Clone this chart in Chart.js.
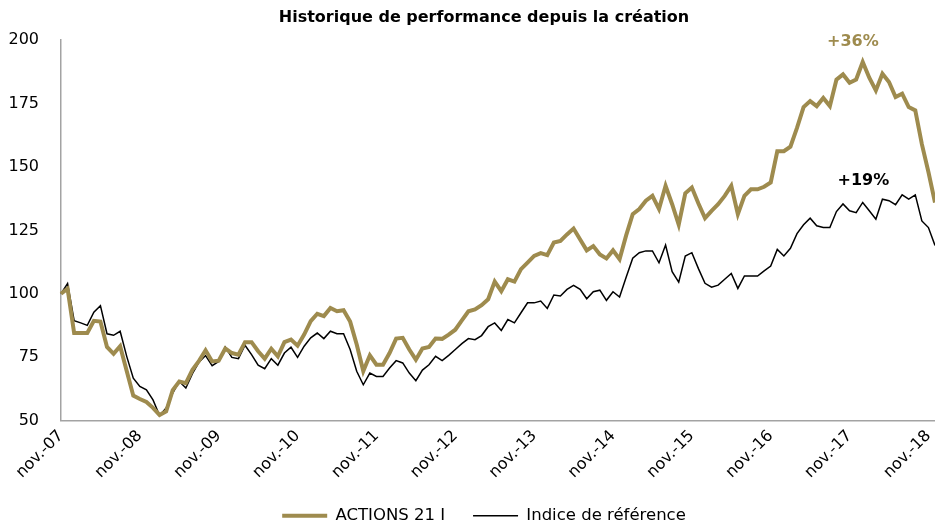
<!DOCTYPE html>
<html lang="fr">
<head>
<meta charset="utf-8">
<title>Historique de performance depuis la création</title>
<script src="https://cdn.jsdelivr.net/npm/chart.js@4/dist/chart.umd.min.js"></script>
<style>
  html, body { margin: 0; padding: 0; background: #fff; }
</style>
</head>
<body>
<canvas id="chartPerf" width="935" height="526"></canvas>
<script>
// ── Données ────────────────────────────────────────────────────────────────
const MOIS_FR   = ['janv.', 'févr.', 'mars', 'avr.', 'mai', 'juin', 'juil.', 'août', 'sept.', 'oct.', 'nov.', 'déc.'];
const NB_MOIS   = 134;   // nov.-07 → déc.-18, base 100
const TICK_STEP = 12;    // une étiquette par an (nov.)

const ACTIONS_21_I = [
  100, 102, 84.5, 84.5, 84.5, 89.3, 89, 79, 76.3, 79.3,
  69.5, 59.8, 58.5, 57.3, 55, 52.2, 53.6, 62, 65.4, 64.7,
  70, 73.5, 77.7, 73.3, 73.6, 78.4, 76.6, 76, 80.9, 80.9,
  77.3, 74.4, 78.3, 75.3, 80.9, 81.9, 79.5, 83.9, 89.2, 92.1,
  91.2, 94.4, 93.1, 93.5, 89, 80, 69.5, 75.7, 72, 72,
  76.6, 82.3, 82.6, 78, 74, 78.4, 79, 82.3, 82.2, 83.9,
  85.8, 89.5, 93.1, 93.8, 95.5, 97.8, 104.8, 101, 105.7, 104.8,
  109.7, 112.3, 114.9, 116, 115.2, 120.2, 120.8, 123.4, 125.7, 121.4,
  117.1, 118.8, 115.5, 113.9, 117.1, 113.6, 123, 131.4, 133.4, 136.7,
  138.6, 133.4, 142.6, 135.3, 127.2, 139.6, 141.9, 135.6, 129.8, 132.7,
  135.3, 138.6, 142.6, 131.4, 138.6, 141.2, 141.2, 142.2, 143.9, 156.2,
  156.2, 158, 165.4, 173.6, 176, 174, 177.2, 174, 184.4, 186.5,
  183.2, 184.5, 191.4, 185.2, 180.2, 186.8, 183.5, 177.6, 178.9, 173.6,
  172.3, 159, 148, 136,
];

const INDICE_REF = [
  100, 104, 89.4, 88.5, 87.5, 92.7, 95.3, 84.2, 83.6, 85.2,
  75.3, 66.7, 63.4, 62.1, 58.1, 52, 54.9, 60.8, 65.4, 62.8,
  68.5, 73, 75.6, 71.6, 73.3, 79, 74.9, 74.4, 79.7, 76,
  71.8, 70.4, 74.4, 71.8, 76.6, 78.9, 74.9, 79.3, 82.6, 84.5,
  82.3, 85.2, 84.2, 84.2, 78, 69.4, 64.1, 68.7, 67.4, 67.4,
  70.7, 73.6, 72.7, 68.7, 65.7, 69.9, 72, 75.3, 73.6, 75.7,
  78, 80.3, 82.3, 81.9, 83.5, 87, 88.5, 85.5, 89.8, 88.5,
  92.5, 96.4, 96.4, 97.1, 94.2, 99.5, 99.1, 101.7, 103.3, 101.7,
  98, 100.8, 101.4, 97.4, 100.8, 98.7, 106.5, 114, 116.2, 116.9,
  116.9, 112.2, 119.2, 108.7, 104.6, 114.9, 116.2, 109.9, 104.1, 102.6,
  103.4, 105.7, 108, 102.1, 107, 107, 107, 109, 110.9, 117.5,
  114.9, 117.9, 123.7, 127.2, 129.8, 126.8, 126.1, 126.1, 132.4, 135.4,
  132.7, 132, 136, 132.7, 129.4, 137.3, 136.7, 135.1, 139, 137.3,
  139, 128.7, 126.1, 119,
];

const Y_MIN  = 50;
const Y_MAX  = 200;
const Y_STEP = 25;

// libellés de mois : nov.-07, déc.-07, janv.-08 ...
const LABELS = Array.from({ length: NB_MOIS }, (_, i) => {
  const m = (10 + i) % 12;
  const a = 7 + Math.floor((10 + i) / 12);
  return `${MOIS_FR[m]}-${String(a).padStart(2, '0')}`;
});

// ── Styles ─────────────────────────────────────────────────────────────────
const GOLD  = '#9e8b4e';
const BLACK = '#000000';
const AXIS  = '#a3a3a3';
const FONT  = 'DejaVu Sans';

// perf finale affichée au-dessus des courbes (index, valeur)
const ANNOTATIONS = [
  { text: '+36%', color: GOLD,  at: [120.5, 199.2] },
  { text: '+19%', color: BLACK, at: [122.1, 144.6] },
];

// ── Plugins ────────────────────────────────────────────────────────────────
const perfLabels = {
  id: 'perfLabels',
  afterDatasetsDraw(chart) {
    const { ctx, scales: { x, y } } = chart;
    ctx.save();
    ctx.font = `bold 16px "${FONT}"`;
    ctx.textAlign = 'center';
    ctx.textBaseline = 'middle';
    ANNOTATIONS.forEach(a => {
      ctx.fillStyle = a.color;
      ctx.fillText(a.text, x.getPixelForValue(a.at[0]), y.getPixelForValue(a.at[1]));
    });
    ctx.restore();
  },
};

// l'axe Y est étroit (padding gauche pour centrer titre/légende) :
// on élargit sa zone de clip pour ne pas couper les étiquettes
const yLabelRoom = {
  id: 'yLabelRoom',
  afterLayout(chart) { chart.scales.y.left = 0; },
};

// ── Graphique ──────────────────────────────────────────────────────────────
new Chart(document.getElementById('chartPerf'), {
  type: 'line',
  data: {
    labels: LABELS,
    datasets: [
      {
        label:       'ACTIONS 21 I',
        data:        ACTIONS_21_I,
        borderColor: GOLD,
        backgroundColor: GOLD,
        borderWidth: 4,
        pointRadius: 0,
        tension:     0,
      },
      {
        label:       'Indice de référence',
        data:        INDICE_REF,
        borderColor: BLACK,
        backgroundColor: BLACK,
        borderWidth: 1.5,
        pointRadius: 0,
        tension:     0,
      },
    ],
  },
  options: {
    responsive: false,
    animation: false,
    layout: { padding: { left: 33, right: 0, top: 0, bottom: -8 } },
    plugins: {
      title: {
        display: true,
        text: 'Historique de performance depuis la création',
        color: '#000',
        font: { family: FONT, size: 16, weight: 'bold' },
        padding: { top: 8, bottom: 13 },
      },
      legend: {
        position: 'bottom',
        labels: {
          usePointStyle: true,
          pointStyle: 'line',
          pointStyleWidth: 45,
          padding: 28,
          color: '#000',
          font: { family: FONT, size: 16.5 },
        },
      },
      tooltip: { enabled: false },
    },
    scales: {
      x: {
        grid: { display: false, drawTicks: false },
        border: { display: true, color: AXIS, width: 1.5 },
        ticks: {
          autoSkip: false,
          minRotation: 45,
          maxRotation: 45,
          padding: 6,
          color: '#000',
          font: { family: FONT, size: 16 },
          callback: (v, i) => (i % TICK_STEP === 0 ? LABELS[i] : null),
        },
        afterFit: s => {
          s.height = 59;
          s.paddingLeft = 0;
          s.paddingRight = 0;
        },
      },
      y: {
        min: Y_MIN,
        max: Y_MAX,
        grid: { display: false, drawTicks: false },
        border: { display: true, color: AXIS, width: 1.5 },
        ticks: {
          stepSize: Y_STEP,
          padding: 22,
          color: '#000',
          font: { family: FONT, size: 16 },
        },
        afterFit: s => { s.width = 28; },
      },
    },
  },
  plugins: [perfLabels, yLabelRoom],
});
</script>
</body>
</html>
